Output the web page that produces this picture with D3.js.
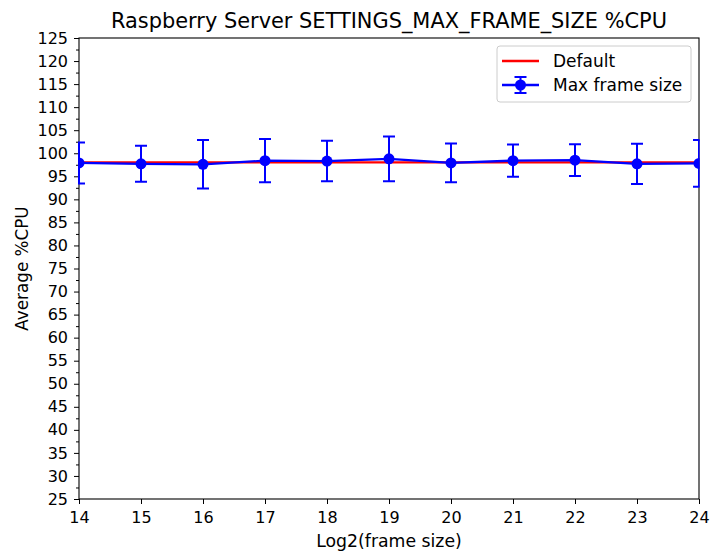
<!DOCTYPE html>
<html>
<head>
<meta charset="utf-8">
<script src="https://d3js.org/d3.v7.min.js"></script>
<style>
body { margin: 0; background: #fff; }
text { font-family: "DejaVu Sans", sans-serif; fill: #000; }
</style>
</head>
<body>
<div id="chart"></div>
<script>

// frame size exponents (x) and measured %CPU
var frameLog2 = [14, 15, 16, 17, 18, 19, 20, 21, 22, 23, 24];
var defaultCpu = [98.0, 98.0, 98.0, 98.0, 98.0, 98.0, 98.0, 98.0, 98.0, 98.0, 98.0];
var maxFrameCpu = [97.9, 97.7, 97.6, 98.4, 98.3, 98.8, 97.9, 98.4, 98.5, 97.7, 97.8];
var maxFrameErr = [4.45, 3.9, 5.25, 4.7, 4.4, 4.85, 4.2, 3.5, 3.45, 4.35, 5.05];
var yTicks = d3.range(25, 126, 5);

var width = 710, height = 554;
var margin = {top: 38, right: 11, bottom: 55, left: 79};
var w = width - margin.left - margin.right,
    h = height - margin.top - margin.bottom;

var svg = d3.select("#chart").append("svg")
    .attr("width", width)
    .attr("height", height);

var g = svg.append("g")
    .attr("transform", "translate(" + margin.left + "," + margin.top + ")");

var x = d3.scaleLinear().domain([14, 24]).range([0, w]);
var y = d3.scaleLinear().domain([25, 125]).range([h, 0]);

// axes
var xAxis = g.append("g")
    .attr("transform", "translate(0," + h + ")")
    .call(d3.axisBottom(x).tickValues(frameLog2).tickSize(5).tickPadding(8).tickFormat(d3.format("d")));

var yMinor = g.append("g")
    .call(d3.axisLeft(y).tickValues(d3.range(27.5, 125, 5)).tickSize(3).tickFormat(""));

var yAxis = g.append("g")
    .call(d3.axisLeft(y).tickValues(yTicks).tickSize(5).tickPadding(6).tickFormat(d3.format("d")));

[xAxis, yAxis, yMinor].forEach(function(a) {
  a.select(".domain").remove();
  a.selectAll("line").attr("stroke", "#000").attr("stroke-width", 1);
  a.selectAll("text").style("font-size", "16px").style("font-family", "DejaVu Sans");
});

// frame
g.append("rect")
    .attr("width", w).attr("height", h)
    .attr("fill", "none").attr("stroke", "#000").attr("stroke-width", 1.1);

// default line
var line = d3.line()
    .x(function(d, i) { return x(frameLog2[i]); })
    .y(function(d) { return y(d); });

g.append("path")
    .datum(defaultCpu)
    .attr("d", line)
    .attr("fill", "none")
    .attr("stroke", "#ff0000")
    .attr("stroke-width", 2.3);

// max frame size series with error bars
var clip = g.append("clipPath").attr("id", "clip")
  .append("rect").attr("x", -1).attr("y", -1).attr("width", w + 1.5).attr("height", h + 2);

var series = g.append("g").attr("clip-path", "url(#clip)");

var bars = series.selectAll(".err")
    .data(maxFrameCpu)
  .enter().append("g").attr("class", "err");

bars.append("line")
    .attr("x1", function(d, i) { return x(frameLog2[i]); })
    .attr("x2", function(d, i) { return x(frameLog2[i]); })
    .attr("y1", function(d, i) { return y(d + maxFrameErr[i]); })
    .attr("y2", function(d, i) { return y(d - maxFrameErr[i]); });

bars.append("line")
    .attr("x1", function(d, i) { return x(frameLog2[i]) - 6; })
    .attr("x2", function(d, i) { return x(frameLog2[i]) + 6; })
    .attr("y1", function(d, i) { return y(d + maxFrameErr[i]); })
    .attr("y2", function(d, i) { return y(d + maxFrameErr[i]); });

bars.append("line")
    .attr("x1", function(d, i) { return x(frameLog2[i]) - 6; })
    .attr("x2", function(d, i) { return x(frameLog2[i]) + 6; })
    .attr("y1", function(d, i) { return y(d - maxFrameErr[i]); })
    .attr("y2", function(d, i) { return y(d - maxFrameErr[i]); });

bars.selectAll("line").attr("stroke", "#0000ff").attr("stroke-width", 2);

series.append("path")
    .datum(maxFrameCpu)
    .attr("d", line)
    .attr("fill", "none")
    .attr("stroke", "#0000ff")
    .attr("stroke-width", 2.3);

series.selectAll(".dot")
    .data(maxFrameCpu)
  .enter().append("circle")
    .attr("class", "dot")
    .attr("cx", function(d, i) { return x(frameLog2[i]); })
    .attr("cy", function(d) { return y(d); })
    .attr("r", 5.5)
    .attr("fill", "#0000ff");

// legend
var leg = svg.append("g").attr("transform", "translate(497,46)");
leg.append("rect")
    .attr("width", 194).attr("height", 56).attr("rx", 3)
    .attr("fill", "#fff").attr("fill-opacity", 0.8)
    .attr("stroke", "#ccc").attr("stroke-width", 1);

leg.append("line")
    .attr("x1", 5).attr("x2", 42).attr("y1", 15).attr("y2", 15)
    .attr("stroke", "#ff0000").attr("stroke-width", 2.3);
leg.append("text").attr("x", 56).attr("y", 21).style("font-size", "17px").text("Default");

leg.append("line")
    .attr("x1", 5).attr("x2", 42).attr("y1", 39).attr("y2", 39)
    .attr("stroke", "#0000ff").attr("stroke-width", 2.3);
leg.append("line")
    .attr("x1", 23.5).attr("x2", 23.5).attr("y1", 31).attr("y2", 47)
    .attr("stroke", "#0000ff").attr("stroke-width", 2);
leg.append("line")
    .attr("x1", 17.5).attr("x2", 29.5).attr("y1", 31).attr("y2", 31)
    .attr("stroke", "#0000ff").attr("stroke-width", 2);
leg.append("line")
    .attr("x1", 17.5).attr("x2", 29.5).attr("y1", 47).attr("y2", 47)
    .attr("stroke", "#0000ff").attr("stroke-width", 2);
leg.append("circle").attr("cx", 23.5).attr("cy", 39).attr("r", 5.5).attr("fill", "#0000ff");
leg.append("text").attr("x", 56).attr("y", 45).style("font-size", "17px").text("Max frame size");

// titles
svg.append("text")
    .attr("x", margin.left + w / 2).attr("y", 28)
    .attr("text-anchor", "middle")
    .style("font-size", "20.9px")
    .text("Raspberry Server SETTINGS_MAX_FRAME_SIZE %CPU");

svg.append("text")
    .attr("x", margin.left + w / 2).attr("y", 547)
    .attr("text-anchor", "middle")
    .style("font-size", "17.3px")
    .text("Log2(frame size)");

svg.append("text")
    .attr("transform", "translate(28," + (margin.top + h / 2) + ") rotate(-90)")
    .attr("text-anchor", "middle")
    .style("font-size", "16.8px")
    .text("Average %CPU");

</script>
</body>
</html>
